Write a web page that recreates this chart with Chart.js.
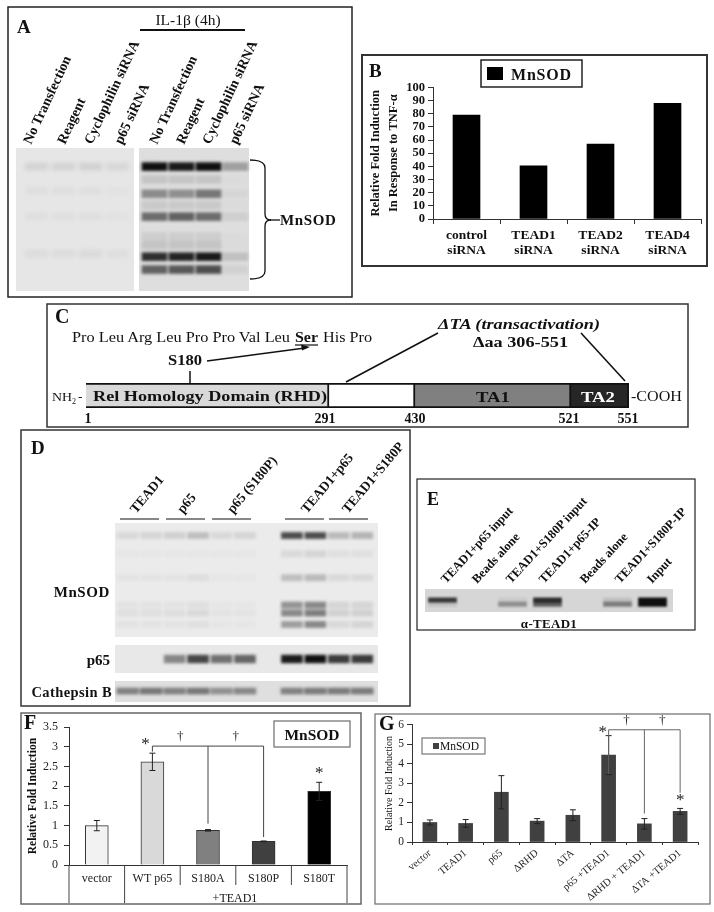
<!DOCTYPE html>
<html>
<head>
<meta charset="utf-8">
<style>
  html, body { margin: 0; background: #fff; }
  body { position: relative; width: 714px; height: 912px; overflow: hidden; }
  canvas, .gel, svg { position: absolute; }
  svg { left: 0; top: 0; pointer-events: none; }
</style>
<script src="https://cdn.jsdelivr.net/npm/chart.js@4"></script>
</head>
<body>
<script>
// panel B
const bCategories = [['control', 'siRNA'], ['TEAD1', 'siRNA'], ['TEAD2', 'siRNA'], ['TEAD4', 'siRNA']];
const bValues = [79, 40.5, 57, 88];

// panel F
const fCategories = ['vector', 'WT p65', 'S180A', 'S180P', 'S180T'];
const fValues = [1, 2.62, 0.88, 0.6, 1.87];
const fErrors = [0.13, 0.22, 0.02, 0.01, 0.23];
const fColors = ['#f2f2f2', '#d9d9d9', '#808080', '#404040', '#000000'];

// panel G
const gCategories = ['vector', 'TEAD1', 'p65', 'ΔRHD', 'ΔTA', 'p65 +TEAD1', 'ΔRHD + TEAD1', 'ΔTA +TEAD1'];
const gValues = [1, 0.95, 2.55, 1.07, 1.37, 4.45, 0.93, 1.57];
const gErrors = [0.13, 0.2, 0.85, 0.13, 0.28, 1, 0.27, 0.15];

// panel C, drawn lengths of the domains
const domainLengths = [243, 86, 156, 58];
const domainColors = ['#d9d9d9', '#ffffff', '#808080', '#262626'];

// blots: band position in % of gel height, then darkness per lane
const a1Rows = [13, 30, 48, 74];
const a1Bands = [[.09, .09, .1, .07], [.03, .03, .03, .02], [.03, .03, .03, .02], [.05, .05, .06, .04]];
const a2Rows = [13, 22, 32, 40, 48, 62, 68, 76, 85];
const a2Bands = [
  [1, .95, 1, .3],
  [.12, .12, .12, .01],
  [.4, .38, .5, .04],
  [.1, .1, .1, .01],
  [.55, .6, .55, .07],
  [.08, .08, .08, .01],
  [.12, .12, .12, .01],
  [.85, .9, .95, .14],
  [.6, .65, .7, .06]
];
const dRows = [11, 27, 48, 72, 79, 89];
const dBands = [
  [.08, .1, .12, .2, .08, .1, 0, .72, .72, .22, .25],
  [.02, .02, .02, .02, .02, .02, 0, .08, .1, .05, .05],
  [.03, .03, .03, .06, .02, .02, 0, .2, .22, .08, .08],
  [.03, .03, .03, .05, .02, .02, 0, .4, .45, .1, .1],
  [.05, .05, .06, .08, .03, .03, 0, .45, .5, .12, .12],
  [.03, .03, .03, .05, .02, .02, 0, .35, .45, .08, .1]
];
const p65Rows = [50];
const p65Bands = [[0, 0, .45, .75, .55, .6, 0, .95, 1, .8, .8]];
const catRows = [48];
const catBands = [[.45, .5, .45, .5, .38, .42, 0, .45, .48, .48, .48]];
const eRows = [48, 66];
const eBands = [[.8, 0, .05, .85, 0, .1, 1], [.1, 0, .35, .6, 0, .45, 1]];

const SERIF = '"Liberation Serif", serif';

function addCanvas(x, y, w, h) {
  const c = document.createElement('canvas');
  c.width = w;
  c.height = h;
  c.style.left = x + 'px';
  c.style.top = y + 'px';
  document.body.appendChild(c);
  return c;
}

// error bars, brackets and stars all go through the chart's own scales
const extras = {
  id: 'extras',
  afterDatasetsDraw(chart, args, o) {
    const { ctx, scales: { x, y }, chartArea } = chart;
    ctx.save();
    ctx.strokeStyle = '#222';
    ctx.lineWidth = 1;
    o.errors.forEach((e, i) => {
      const px = x.getPixelForValue(i), v = chart.data.datasets[0].data[i];
      ctx.beginPath();
      ctx.moveTo(px, y.getPixelForValue(v - e));
      ctx.lineTo(px, y.getPixelForValue(v + e));
      [v - e, v + e].forEach(k => {
        ctx.moveTo(px - 3, y.getPixelForValue(k));
        ctx.lineTo(px + 3, y.getPixelForValue(k));
      });
      ctx.stroke();
    });
    ctx.strokeStyle = o.bracketColor;
    ctx.beginPath();
    ctx.moveTo(x.getPixelForValue(o.from), y.getPixelForValue(o.level));
    ctx.lineTo(x.getPixelForValue(o.drops[o.drops.length - 1][0]), y.getPixelForValue(o.level));
    ctx.moveTo(x.getPixelForValue(o.from), y.getPixelForValue(o.level));
    ctx.lineTo(x.getPixelForValue(o.from), y.getPixelForValue(o.fromDrop));
    o.drops.forEach(d => {
      ctx.moveTo(x.getPixelForValue(d[0]), y.getPixelForValue(o.level));
      ctx.lineTo(x.getPixelForValue(d[0]), y.getPixelForValue(d[1]));
    });
    ctx.stroke();
    ctx.fillStyle = '#222';
    ctx.textAlign = 'center';
    ctx.font = '17px ' + SERIF;
    o.stars.forEach(s => ctx.fillText('*', x.getPixelForValue(s[0]) + s[2], y.getPixelForValue(s[1])));
    ctx.font = '13px ' + SERIF;
    o.daggers.forEach(d => ctx.fillText('†', x.getPixelForValue(d) + 0.5 * (x.getPixelForValue(1) - x.getPixelForValue(0)), y.getPixelForValue(o.level) - 6));
    if (o.table) {
      const step = x.getPixelForValue(1) - x.getPixelForValue(0), b = chartArea.bottom;
      ctx.strokeStyle = '#444';
      ctx.beginPath();
      for (let i = 0; i <= fCategories.length; i++) {
        const px = chartArea.left + i * step;
        ctx.moveTo(px, b);
        ctx.lineTo(px, b + (i < 2 || i === fCategories.length ? 39 : 20));
      }
      ctx.stroke();
    }
    ctx.restore();
  }
};

function barChart(box, labels, data, colors, border, yo, xo, plugs) {
  const c = addCanvas(box.x, box.y, box.w, box.h);
  return new Chart(c, {
    type: 'bar',
    data: { labels, datasets: [{ data, backgroundColor: colors, borderColor: border, borderWidth: border ? 1 : 0, barThickness: box.bar }] },
    plugins: plugs,
    options: {
      responsive: false,
      animation: false,
      layout: { padding: { top: box.top, right: box.right } },
      plugins: { legend: { display: false }, tooltip: { enabled: false }, extras: box.extras },
      scales: {
        x: Object.assign({
          afterFit: s => { s.height = box.xh; },
          border: { color: '#333' }
        }, xo),
        y: Object.assign({
          afterFit: s => { s.width = box.yw; },
          border: { color: '#333' },
          grid: { drawOnChartArea: false, tickLength: 5, color: '#333' }
        }, yo)
      }
    }
  });
}

// panel B
barChart({ x: 364, y: 77, w: 340, h: 187, top: 10, right: 3, xh: 45, yw: 69, bar: 27 },
  bCategories, bValues, '#000', null,
  {
    min: 0, max: 100,
    ticks: { stepSize: 10, autoSkip: false, color: '#111', padding: 3, font: { family: SERIF, size: 12.5, weight: 'bold' } },
    title: { display: true, text: ['Relative Fold Induction', 'In Response to TNF-α'], color: '#111', padding: { top: 3, bottom: 0 }, font: { family: SERIF, size: 12.5, weight: 'bold', lineHeight: 1.45 } }
  },
  {
    grid: { drawOnChartArea: false, tickLength: 5, color: '#333' },
    ticks: { color: '#111', padding: 4, maxRotation: 0, font: { family: SERIF, size: 13.5, weight: 'bold', lineHeight: 1.1 } }
  }, []);

// panel F
barChart({
  x: 23, y: 714, w: 329, h: 189, top: 8, right: 5, xh: 38, yw: 46, bar: 23,
  extras: { errors: fErrors, bracketColor: '#444', level: 3.02, from: 1, fromDrop: 2.88, drops: [[2, 1.05], [3, 0.71]], stars: [[1, 2.94, -7], [4, 2.22, 0]], daggers: [1, 2], table: true }
}, fCategories, fValues, fColors, '#333',
  {
    min: 0, max: 3.5,
    ticks: { stepSize: 0.5, autoSkip: false, color: '#222', padding: 6, font: { family: SERIF, size: 12 }, callback: v => String(v) },
    title: { display: true, text: 'Relative Fold Induction', color: '#111', padding: { top: 3, bottom: 0 }, font: { family: SERIF, size: 11.5, weight: 'bold' } }
  },
  {
    grid: { display: false, drawTicks: false },
    ticks: { color: '#222', padding: 7, maxRotation: 0, font: { family: SERIF, size: 12 } }
  }, [extras]);

// panel G
barChart({
  x: 377, y: 715, w: 329, h: 188, top: 8, right: 8, xh: 61, yw: 35, bar: 14,
  extras: { errors: gErrors, bracketColor: '#666', level: 5.75, from: 5, fromDrop: 3.48, drops: [[6, 1.46], [7, 2.52]], stars: [[5, 5.4, -6], [7, 1.9, 0]], daggers: [5, 6], table: false }
}, gCategories, gValues, '#404040', null,
  {
    min: 0, max: 6,
    ticks: { stepSize: 1, autoSkip: false, color: '#222', font: { family: SERIF, size: 11.5 } },
    title: { display: true, text: 'Relative Fold Induction', color: '#111', padding: { top: 6, bottom: 0 }, font: { family: SERIF, size: 10 } }
  },
  {
    grid: { drawOnChartArea: false, tickLength: 3, color: '#333' },
    ticks: { color: '#222', padding: 2, minRotation: 40, maxRotation: 40, autoSkip: false, font: { family: SERIF, size: 10.5 } }
  }, [extras]);

// panel C, domain bar
new Chart(addCanvas(84, 381, 547, 29), {
  type: 'bar',
  data: {
    labels: ['p65'],
    datasets: domainLengths.map((d, i) => ({ data: [d], backgroundColor: domainColors[i], borderColor: '#111', borderWidth: 2 }))
  },
  options: {
    indexAxis: 'y',
    responsive: false,
    animation: false,
    layout: { padding: 2 },
    plugins: { legend: { display: false }, tooltip: { enabled: false } },
    datasets: { bar: { categoryPercentage: 1, barPercentage: 1 } },
    scales: {
      x: { display: false, stacked: true, min: 0, max: 543 },
      y: { display: false, stacked: true }
    }
  }
});

// a blot is a floating bar chart, blurred, on a grey block
function blot(g, rows, bands) {
  const block = document.createElement('div');
  block.className = 'gel';
  block.style.cssText = `left:${g.x}px;top:${g.y}px;width:${g.w}px;height:${g.h}px;background:${g.bg}`;
  document.body.appendChild(block);
  const c = addCanvas(g.cx, g.y, g.cw, g.h);
  c.style.filter = `blur(${g.blur}px)`;
  new Chart(c, {
    type: 'bar',
    data: {
      labels: bands[0].map((b, i) => i + 1),
      datasets: rows.map((r, k) => ({
        data: bands[k].map(() => [r - g.band, r + g.band]),
        backgroundColor: bands[k].map(v => `rgba(15,15,15,${v})`),
        grouped: false
      }))
    },
    options: {
      responsive: false,
      animation: false,
      plugins: { legend: { display: false }, tooltip: { enabled: false } },
      datasets: { bar: { categoryPercentage: 1, barPercentage: g.fill } },
      scales: {
        x: { display: false },
        y: { display: false, reverse: true, min: 0, max: 100 }
      }
    }
  });
}

blot({ x: 16, y: 148, w: 118, h: 143, cx: 23, cw: 108, bg: '#e6e6e6', band: 2.5, fill: .85, blur: 2 }, a1Rows, a1Bands);
blot({ x: 139, y: 148, w: 110, h: 143, cx: 141, cw: 108, bg: '#dedede', band: 3, fill: .95, blur: 1.8 }, a2Rows, a2Bands);
blot({ x: 115, y: 523, w: 263, h: 114, cx: 116, cw: 258, bg: '#ebebeb', band: 3, fill: .92, blur: 1.6 }, dRows, dBands);
blot({ x: 115, y: 645, w: 263, h: 28, cx: 116, cw: 258, bg: '#e8e8e8', band: 15, fill: .92, blur: 1.6 }, p65Rows, p65Bands);
blot({ x: 115, y: 681, w: 263, h: 21, cx: 116, cw: 258, bg: '#dfdfdf', band: 16, fill: .96, blur: 1.5 }, catRows, catBands);
blot({ x: 425, y: 589, w: 248, h: 23, cx: 425, cw: 245, bg: '#d6d6d6', band: 11, fill: .82, blur: 0.9 }, eRows, eBands);

// frames, text and schematic lines on top
const NS = 'http://www.w3.org/2000/svg';
const svg = document.createElementNS(NS, 'svg');
svg.setAttribute('width', 714);
svg.setAttribute('height', 912);
document.body.appendChild(svg);

function el(name, attrs) {
  const e = document.createElementNS(NS, name);
  for (const k in attrs) e.setAttribute(k, attrs[k]);
  svg.appendChild(e);
  return e;
}
function frame(x, y, w, h, color, width) {
  el('rect', { x, y, width: w, height: h, fill: 'none', stroke: color || '#222', 'stroke-width': width || 1.5 });
}
function line(x1, y1, x2, y2, width, color) {
  el('line', { x1, y1, x2, y2, stroke: color || '#111', 'stroke-width': width || 1.5 });
}
function text(x, y, str, size, o) {
  o = o || {};
  const e = el('text', {
    x, y,
    'font-family': SERIF,
    'font-size': size,
    'font-weight': o.bold ? 'bold' : 'normal',
    'font-style': o.italic ? 'italic' : 'normal',
    'text-anchor': o.anchor || 'start',
    fill: o.fill || '#111'
  });
  if (o.rot) e.setAttribute('transform', `rotate(${o.rot} ${x} ${y})`);
  if (o.spacing) e.setAttribute('letter-spacing', o.spacing);
  // panel C is stretched sideways in the reference
  if (o.fit) {
    e.setAttribute('textLength', o.fit);
    e.setAttribute('lengthAdjust', 'spacingAndGlyphs');
  }
  e.textContent = str;
  return e;
}

// A
frame(8, 7, 344, 290);
text(17, 33, 'A', 19, { bold: true });
text(188, 25, 'IL-1β (4h)', 15.5, { anchor: 'middle' });
line(140, 30, 245, 30, 1.8);
[['No Transfection', 31], ['Reagent', 65], ['Cyclophilin siRNA', 92], ['p65 siRNA', 122],
 ['No Transfection', 157], ['Reagent', 184], ['Cyclophilin siRNA', 210], ['p65 siRNA', 237]].forEach(l => {
  text(l[1], 145, l[0], 14, { bold: true, rot: -65 });
});
el('path', { d: 'M250 160 Q265 160 265 168 L265 214 Q265 220 271 220 Q265 220 265 226 L265 271 Q265 279 250 279', fill: 'none', stroke: '#111', 'stroke-width': 1.3 });
line(270, 220, 280, 220, 1.3);
text(280, 225, 'MnSOD', 15, { bold: true, spacing: 0.6 });

// B
frame(362, 55, 345, 211, '#333', 2);
text(369, 77, 'B', 19, { bold: true });
frame(481, 60, 101, 27, '#222', 1.5);
el('rect', { x: 487, y: 67, width: 16, height: 13, fill: '#000' });
text(511, 80, 'MnSOD', 16, { bold: true, spacing: 0.8 });

// C
frame(47, 304, 641, 123, '#333', 1.5);
text(55, 323, 'C', 20, { bold: true });
text(72, 342, 'Pro Leu Arg Leu Pro Pro Val Leu', 14, { fit: 218 });
text(295, 342, 'Ser', 14, { bold: true, fit: 23 });
line(295, 345, 318, 345, 1.2);
text(323, 342, 'His Pro', 14, { fit: 49 });
text(168, 365, 'S180', 14, { bold: true, fit: 34 });
line(207, 361, 305, 348, 1.6);
el('path', { d: 'M310 347 L301 344.5 L302 350.5 Z', fill: '#111' });
line(190, 371, 190, 383, 1.5);
text(438, 329, 'ΔTA (transactivation)', 15, { bold: true, italic: true, fit: 162 });
text(473, 347, 'Δaa 306-551', 14.5, { bold: true, fit: 95 });
line(346, 382, 438, 333, 1.6);
line(581, 333, 625, 381, 1.6);
text(52, 401, 'NH', 13.5, { fit: 20 });
text(72, 404, '2', 8);
text(78, 401, '-', 13.5);
text(93, 401, 'Rel Homology Domain (RHD)', 15, { bold: true, fit: 234 });
text(493, 402, 'TA1', 15, { bold: true, anchor: 'middle', fit: 34 });
text(598, 402, 'TA2', 15, { bold: true, anchor: 'middle', fill: '#fff', fit: 34 });
text(631, 401, '-COOH', 14, { fit: 51 });
[['1', 88], ['291', 325], ['430', 415], ['521', 569], ['551', 628]].forEach(n => {
  text(n[1], 423, n[0], 14, { bold: true, anchor: 'middle' });
});

// D
frame(21, 430, 389, 276, '#333', 1.5);
text(31, 454, 'D', 19, { bold: true });
[['TEAD1', 120, 136], ['p65', 166, 183], ['p65 (S180P)', 212, 233], ['TEAD1+p65', 285, 307], ['TEAD1+S180P', 329, 348]].forEach(l => {
  line(l[1], 519, l[1] + 39, 519, 1.2);
  text(l[2], 514, l[0], 13.5, { bold: true, rot: -50 });
});
text(110, 597, 'MnSOD', 15, { bold: true, anchor: 'end', spacing: 0.6 });
text(110, 665, 'p65', 15, { bold: true, anchor: 'end' });
text(112, 697, 'Cathepsin B', 14.5, { bold: true, anchor: 'end', spacing: 0.4 });

// E
frame(417, 479, 278, 151, '#222', 1.2);
text(427, 505, 'E', 18, { bold: true });
[['TEAD1+p65 input', 446], ['Beads alone', 477], ['TEAD1+S180P input', 511], ['TEAD1+p65-IP', 544], ['Beads alone', 585], ['TEAD1+S180P-IP', 620], ['Input', 652]].forEach(l => {
  text(l[1], 584, l[0], 12.5, { bold: true, rot: -47 });
});
text(549, 628, 'α-TEAD1', 13, { bold: true, anchor: 'middle', spacing: 0.3 });

// F
frame(21, 713, 340, 191, '#666', 1.5);
text(24, 729, 'F', 20, { bold: true });
text(235, 902, '+TEAD1', 12, { anchor: 'middle' });
frame(274, 721, 76, 26, '#777', 1.3);
text(312, 740, 'MnSOD', 15.5, { bold: true, anchor: 'middle' });

// G
frame(375, 714, 335, 190, '#777', 1.3);
text(379, 730, 'G', 20, { bold: true });
frame(422, 738, 63, 16, '#777', 1.2);
el('rect', { x: 433, y: 743, width: 6, height: 6, fill: '#404040' });
text(440, 750, 'MnSOD', 11.5);
</script>
</body>
</html>
